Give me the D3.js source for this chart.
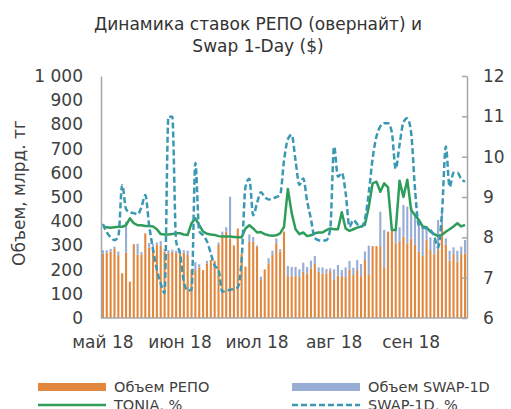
<!DOCTYPE html>
<html>
<head>
<meta charset="utf-8">
<script src="https://cdn.jsdelivr.net/npm/d3@7"></script>
<style>
  body { margin: 0; background: #fff; }
  svg { display: block; font-family: 'DejaVu Sans', sans-serif; }
</style>
</head>
<body>
<script>
// one entry per trading day, May..Sep 2018
const monthLabels = ['май 18', 'июн 18', 'июл 18', 'авг 18', 'сен 18']
const labelStep = 20

const repoVolume = [
  265, 270, 275, 285, 260, 185, 270, 150, 305, 262,
  262, 350, 290, 295, 302, 300, 274, 268, 274, 268,
  264, 270, 260, 200, 198, 209, 198, 226, 240, 236,
  302, 343, 357, 329, 300, 370, 265, 212, 315, 315,
  295, 157, 201, 226, 260, 309, 274, 357, 173, 173,
  173, 169, 191, 183, 205, 223, 191, 183, 183, 196,
  157, 175, 173, 169, 201, 178, 198, 173, 240, 178,
  297, 297, 297, 209, 357, 361, 309, 315, 336, 309,
  329, 302, 274, 256, 325, 281, 264, 281, 384, 302,
  237, 264, 233, 264, 267
]

const swapVolume = [
  15, 10, 10, 10, 15, 0, 128, 0, 0, 45,
  10, 0, 20, 10, 10, 18, 10, 12, 8, 10,
  16, 10, 18, 0, 33, 13, 0, 10, 0, 0,
  10, 14, 18, 172, 0, 0, 0, 0, 30, 20,
  5, 14, 0, 21, 18, 20, 10, 0, 42, 38,
  38, 32, 38, 28, 32, 33, 18, 26, 20, 9,
  44, 44, 25, 40, 35, 30, 42, 50, 35, 121,
  0, 0, 142, 155, 0, 0, 55, 60, 131, 151,
  128, 131, 124, 124, 51, 52, 58, 124, 55, 27,
  41, 28, 45, 31, 55
]

const tonia = [
  8.26, 8.25, 8.24, 8.25, 8.26, 8.26, 8.3, 8.47, 8.35, 8.3,
  8.3, 8.28, 8.28, 8.27, 8.2, 8.08, 8.07, 8.07, 8.08, 8.1,
  8.1, 8.07, 8.06, 8.35, 8.47, 8.3, 8.14, 8.09, 8.07, 8.06,
  8.03, 8.02, 8.02, 8.02, 8.01, 8.0, 8.0, 8.22, 8.3, 8.22,
  8.12, 8.13, 8.08, 8.05, 8.04, 8.05, 8.1, 8.26, 9.2, 8.6,
  8.2, 8.08, 8.12, 8.03, 8.05, 8.1, 8.12, 8.12, 8.18, 8.22,
  8.2, 8.2, 8.62, 8.22, 8.16, 8.2, 8.24, 8.27, 8.31, 8.75,
  9.34, 9.38, 9.13, 9.34, 9.24, 8.18, 8.18, 9.4, 9.0, 9.43,
  8.68, 8.55, 8.43, 8.27, 8.25, 8.14, 8.08, 8.03, 8.06, 8.14,
  8.2, 8.27, 8.35, 8.27, 8.31
]

const swapRate = [
  8.33, 8.12, 8.0, 7.93, 8.02, 9.3, 8.7, 8.62, 8.6, 8.57,
  8.75, 9.05, 8.3, 7.7, 7.2, 6.85, 6.62, 10.99, 10.99, 7.9,
  7.6, 6.9, 6.68, 6.7, 9.84, 8.15, 8.05, 7.9, 7.6, 7.3,
  7.2, 6.65, 6.68, 6.7, 6.72, 6.76, 7.44, 9.25, 9.45, 8.55,
  8.85, 9.12, 9.0, 8.94, 8.96, 9.0, 9.05, 9.9, 10.43, 10.54,
  9.9, 9.3, 9.46, 8.9, 8.45, 7.98, 7.93, 7.92, 7.93, 8.2,
  10.25, 9.5, 9.6, 9.1, 8.26, 8.43, 8.33, 8.26, 8.45, 9.1,
  9.95, 10.5, 10.75, 10.83, 10.83, 10.6, 9.7, 10.3, 10.85, 10.95,
  10.6, 9.2, 8.3, 8.24, 8.22, 8.18, 8.02, 7.75, 8.6, 10.25,
  9.25, 9.6, 9.6, 9.45, 9.38
]

const volumeTicks = [0, 100, 200, 300, 400, 500, 600, 700, 800, 900, 1000]
const rateTicks = [6, 7, 8, 9, 10, 11, 12]

const W = 511
const H = 409
const plot = { left: 101, right: 467, top: 76, bottom: 318 }

const colors = {
  repo: '#e2883e',
  swap: '#97add5',
  tonia: '#2f9d5a',
  swapRate: '#3a98b3',
  axis: '#a6a6a6',
  text: '#404040'
}

const rows = repoVolume.map((d, i) => ({ i, repo: d, swap: swapVolume[i] }))

const x = d3.scaleBand()
  .domain(rows.map(d => d.i))
  .range([plot.left, plot.right])
  .paddingInner(0.45)
  .paddingOuter(0.225)
const y = d3.scaleLinear().domain([0, 1000]).range([plot.bottom, plot.top])
const y2 = d3.scaleLinear().domain([6, 12]).range([plot.bottom, plot.top])
const cx = i => x(i) + x.bandwidth() / 2

const ru = d3.formatLocale({ decimal: ',', thousands: '\u00a0', grouping: [3], currency: ['', ''] })

const svg = d3.select('body').append('svg')
  .attr('width', W)
  .attr('height', H)
  .attr('viewBox', [0, 0, W, H])

// title
svg.append('g')
  .attr('fill', '#333')
  .attr('font-size', 17)
  .attr('text-anchor', 'middle')
  .selectAll('text')
  .data(['Динамика ставок РЕПО (овернайт) и', 'Swap 1-Day ($)'])
  .join('text')
  .attr('x', 258)
  .attr('y', (d, i) => 30 + i * 22)
  .text(d => d)

// stacked bars
const stacked = d3.stack().keys(['repo', 'swap'])(rows)
svg.append('g')
  .selectAll('g')
  .data(stacked)
  .join('g')
  .attr('fill', d => colors[d.key])
  .selectAll('rect')
  .data(d => d)
  .join('rect')
  .attr('x', d => x(d.data.i))
  .attr('width', x.bandwidth())
  .attr('y', d => y(d[1]))
  .attr('height', d => y(d[0]) - y(d[1]))

// rate lines
svg.append('path')
  .datum(tonia)
  .attr('fill', 'none')
  .attr('stroke', colors.tonia)
  .attr('stroke-width', 2.5)
  .attr('stroke-linejoin', 'round')
  .attr('d', d3.line().x((d, i) => cx(i)).y(d => y2(d)))

svg.append('path')
  .datum(swapRate)
  .attr('fill', 'none')
  .attr('stroke', colors.swapRate)
  .attr('stroke-width', 2.5)
  .attr('stroke-dasharray', '6,3')
  .attr('d', d3.line().curve(d3.curveMonotoneX).x((d, i) => cx(i)).y(d => y2(d)))

const styleAxis = g => g
  .call(g => g.selectAll('.domain, .tick line').attr('stroke', colors.axis).attr('stroke-width', 1.5))
  .call(g => g.selectAll('.tick text')
    .attr('fill', colors.text)
    .attr('font-size', 17)
    .attr('font-family', 'DejaVu Sans, sans-serif'))

svg.append('g')
  .attr('transform', `translate(${plot.left},0)`)
  .call(d3.axisLeft(y).tickValues(volumeTicks).tickFormat(ru.format(',')).tickSize(0).tickPadding(18))
  .call(styleAxis)

svg.append('g')
  .attr('transform', `translate(${plot.right},0)`)
  .call(d3.axisRight(y2).tickValues(rateTicks).tickFormat(d3.format('d'))
    .tickSizeInner(-5).tickSizeOuter(0).tickPadding(16))
  .call(styleAxis)

svg.append('g')
  .attr('transform', `translate(0,${plot.bottom})`)
  .call(d3.axisBottom(x)
    .tickValues(monthLabels.map((d, k) => k * labelStep))
    .tickFormat(i => monthLabels[i / labelStep])
    .tickSize(0)
    .tickPadding(18))
  .call(styleAxis)
  .call(g => g.select('.domain').attr('d', `M${plot.left},0H${plot.right}`))

svg.append('text')
  .attr('transform', `translate(25,${(plot.top + plot.bottom) / 2 - 4}) rotate(-90)`)
  .attr('text-anchor', 'middle')
  .attr('fill', colors.text)
  .attr('font-size', 17)
  .text('Объем, млрд. тг')

// legend
const legend = [
  { label: 'Объем РЕПО', type: 'rect', color: colors.repo, col: 0, row: 0 },
  { label: 'Объем SWAP-1D', type: 'rect', color: colors.swap, col: 1, row: 0 },
  { label: 'TONIA, %', type: 'line', color: colors.tonia, col: 0, row: 1 },
  { label: 'SWAP-1D, %', type: 'dash', color: colors.swapRate, col: 1, row: 1 }
]

const item = svg.append('g')
  .selectAll('g')
  .data(legend)
  .join('g')
  .attr('transform', d => `translate(${38 + d.col * 254},${387 + d.row * 18})`)

item.filter(d => d.type === 'rect').append('rect')
  .attr('x', 0).attr('y', -4).attr('width', 68).attr('height', 8)
  .attr('fill', d => d.color)

item.filter(d => d.type !== 'rect').append('path')
  .attr('d', 'M0,0H68')
  .attr('stroke', d => d.color)
  .attr('stroke-width', 2.5)
  .attr('stroke-dasharray', d => d.type === 'dash' ? '6,3' : null)

item.append('text')
  .attr('x', 76)
  .attr('y', 5)
  .attr('fill', colors.text)
  .attr('font-size', 14.5)
  .text(d => d.label)
</script>
</body>
</html>
